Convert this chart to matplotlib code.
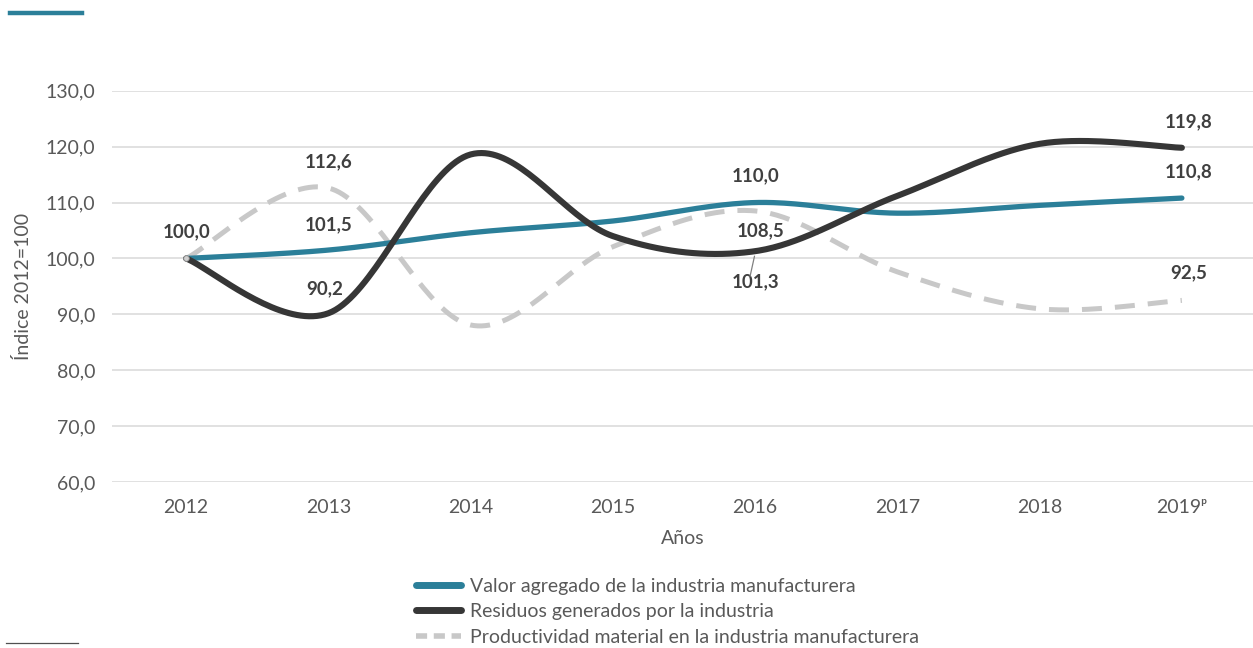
import numpy as np
import matplotlib
matplotlib.use("Agg")
import matplotlib.pyplot as plt
from matplotlib.lines import Line2D

plt.rcParams['font.family'] = ['Lato', 'DejaVu Sans']

# =======================
# DATA
# =======================
years = ["2012", "2013", "2014", "2015", "2016", "2017", "2018", "2019ᵖ"]
valor_agregado = [100.0, 101.5, 104.6, 106.7, 110.0, 108.1, 109.5, 110.8]
residuos = [100.0, 90.2, 118.6, 104.0, 101.3, 111.2, 120.5, 119.8]
productividad = [100.0, 112.6, 88.1, 102.1, 108.5, 97.6, 91.0, 92.5]

names = ["Valor agregado de la industria manufacturera",
         "Residuos generados por la industria",
         "Productividad material en la industria manufacturera"]

TEAL = "#2B7F99"
DARK = "#363636"
GRAY = "#C8C8C8"
TXT = "#404040"
TICK = "#595959"


def smooth(y, n=40):
    # Excel-like smoothed line (cubic bezier / catmull-rom)
    y = np.asarray(y, dtype=float)
    x = np.arange(len(y), dtype=float)
    pts = np.column_stack([x, y])
    out = []
    for i in range(len(pts) - 1):
        p0 = pts[i - 1] if i > 0 else pts[i]
        p1 = pts[i]
        p2 = pts[i + 1]
        p3 = pts[i + 2] if i + 2 < len(pts) else pts[i + 1]
        c1 = p1 + (p2 - p0) / 6.0
        c2 = p2 - (p3 - p1) / 6.0
        t = np.linspace(0, 1, n)[:, None]
        seg = ((1 - t) ** 3 * p1 + 3 * (1 - t) ** 2 * t * c1
               + 3 * (1 - t) * t ** 2 * c2 + t ** 3 * p2)
        out.append(seg if i == 0 else seg[1:])
    s = np.vstack(out)
    return s[:, 0], s[:, 1]


fig = plt.figure(figsize=(12.53, 6.48), dpi=100)
ax = fig.add_axes([0.0895, 0.256, 0.9105, 0.604])

for v in range(60, 131, 10):
    ax.axhline(v, color="#D9D9D9", lw=1.1, zorder=0)

xs, ys = smooth(productividad)
ax.plot(xs, ys, color=GRAY, lw=3.6, dashes=(4, 2.6), zorder=2)
xs, ys = smooth(valor_agregado)
ax.plot(xs, ys, color=TEAL, lw=3.8, solid_capstyle="round", zorder=3)
xs, ys = smooth(residuos)
ax.plot(xs, ys, color=DARK, lw=4.4, solid_capstyle="round", zorder=4)
ax.plot(0, 100, "o", ms=4, mfc="#D0D0D0", mec="#909090", mew=0.6, zorder=5)

ax.set_xlim(-0.52, 7.5)
ax.set_ylim(60, 130)
ax.set_yticks(range(60, 131, 10))
ax.set_yticklabels([f"{v:.1f}".replace(".", ",") for v in range(60, 131, 10)])
ax.set_xticks(range(len(years)))
ax.set_xticklabels(years)
ax.tick_params(length=0, labelsize=14, colors=TICK, pad=12)
for s in ax.spines.values():
    s.set_visible(False)
ax.set_xlabel("Años", fontsize=14, color=TICK, labelpad=10)
ax.set_ylabel("Índice 2012=100", fontsize=14, color=TICK, labelpad=10)


def fmt(v):
    return f"{v:.1f}".replace(".", ",")


lab = dict(fontsize=13.5, fontweight="bold", color=TXT, ha="center", va="center")
# data labels (offsets in points)
labels = [
    (0, valor_agregado[0], 0, 19),
    (1, productividad[1], 0, 19),
    (1, valor_agregado[1], 0, 18),
    (1, residuos[1], -3, 18),
    (4, valor_agregado[4], 0, 19),
    (4, productividad[4], 4, -14),
    (7, residuos[7], 5, 19),
    (7, valor_agregado[7], 5, 19),
    (7, productividad[7], 5, 20),
]
for xi, yv, dx, dy in labels:
    ax.annotate(fmt(yv), (xi, yv), xytext=(dx, dy), textcoords="offset points", **lab)

ax.annotate(fmt(residuos[4]), (4, residuos[4]), xytext=(0, -22),
            textcoords="offset points", **lab)
ax.annotate("", xy=(4.0, residuos[4] - 0.4), xytext=(3.96, 96.3),
            arrowprops=dict(arrowstyle="-", color="#808080", lw=0.9))

handles = [Line2D([], [], color=TEAL, lw=5, solid_capstyle="round"),
           Line2D([], [], color=DARK, lw=5, solid_capstyle="round"),
           Line2D([], [], color=GRAY, lw=4, dashes=(2, 1.2))]
leg = fig.legend(handles, names, loc="lower left", bbox_to_anchor=(0.318, -0.024),
                 frameon=False, fontsize=14, handlelength=2.3, handletextpad=0.5,
                 labelspacing=0.45)
for t in leg.get_texts():
    t.set_color(TICK)

# decorative bars
fig.add_artist(Line2D([10 / 1253, 82 / 1253], [1 - 13 / 648] * 2, color=TEAL, lw=3.2))
fig.add_artist(Line2D([6 / 1253, 78 / 1253], [1 - 643 / 648] * 2, color="#505050", lw=0.9))

fig.savefig("out.png", dpi=100)
